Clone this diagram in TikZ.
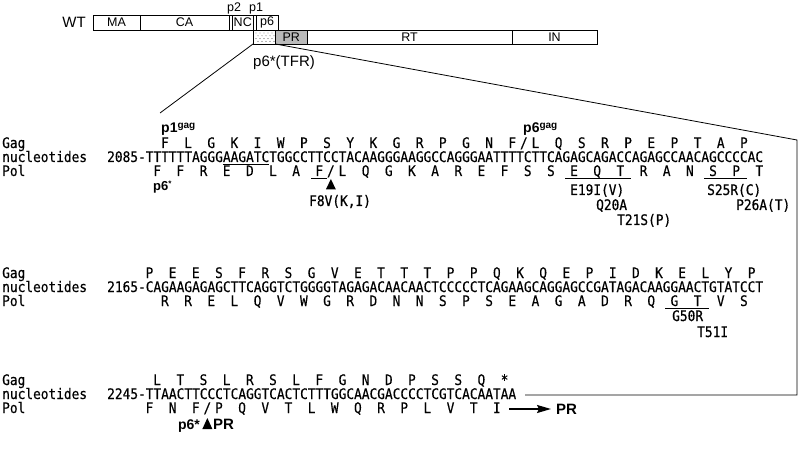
\documentclass[tikz,border=0pt]{standalone}
\usepackage{fontspec}
\setmainfont{Liberation Sans}
\newfontfamily\seqf[FakeStretch=0.884,FakeBold=0.3]{DejaVu Sans Mono}
\newfontfamily\mutf[FakeStretch=0.884,FakeBold=0.7]{DejaVu Sans Mono}
\usetikzlibrary{arrows.meta,calc}
\newcommand{\cx}[1]{107+(#1+0.5)*7.72}
\begin{document}
\begin{tikzpicture}[x=1pt,y=-1pt]
\tikzset{
  seq/.style={font=\seqf\fontsize{14.5}{16}\selectfont, inner sep=0pt, anchor=base},
  mut/.style={font=\mutf\fontsize{14.5}{16}\selectfont, inner sep=0pt, anchor=base west},
  blab/.style={font=\bfseries\fontsize{14}{16}\selectfont, inner sep=0pt, anchor=base west},
  plab/.style={font=\fontsize{12.5}{14}\selectfont, inner sep=0pt},
  gbox/.style={draw, line width=0.8pt, inner sep=0pt, outer sep=0pt, anchor=north west, minimum height=15pt},
  pbox/.style={draw, line width=0.8pt, inner sep=0pt, outer sep=0pt, anchor=north west, minimum height=14pt},
  ln/.style={line width=0.8pt},
  uln/.style={line width=0.8pt},
  tri/.style={fill=black},
}
\useasboundingbox (0,0) rectangle (800,462);

% ---------- top schematic ----------
\node[font=\fontsize{15}{17}\selectfont, inner sep=0pt, anchor=base east] (wt) at (86,28) {WT};
\node[gbox, minimum width=47pt] (ma) at (93,15) {};
\node[gbox, minimum width=89pt] (ca) at (140,15) {};
\node[gbox, minimum width=3.5pt] (p2) at (229,15) {};
\node[gbox, minimum width=20.5pt] (nc) at (232.5,15) {};
\node[gbox, minimum width=3pt] (p1) at (253,15) {};
\node[gbox, minimum width=22pt] (p6) at (256,15) {};
\node[pbox, minimum width=22.5pt] (p6s) at (253,30) {};
\foreach \r in {0,1,2,3} {
  \pgfmathsetmacro{\off}{mod(\r,2)*2}
  \foreach \c in {0,1,2,3,4} {
    \fill ({256+\off+\c*4},{33+\r*2.8}) circle (0.45pt);
  }
}
\node[pbox, minimum width=31.5pt, fill=black!27] (pr) at (275.5,30) {};
\node[pbox, minimum width=205pt] (rt) at (307,30) {};
\node[pbox, minimum width=85pt] (in) at (512,30) {};
\node[plab] (lma) at (ma.center) {MA};
\node[plab] (lca) at (ca.center) {CA};
\node[plab] (lnc) at (nc.center) {NC};
\node[plab] (lp6) at (p6.center) {p6};
\node[plab] (lpr) at (pr.center) {PR};
\node[plab] (lrt) at (rt.center) {RT};
\node[plab] (lin) at (in.center) {IN};
\node[plab, anchor=base] (lp2) at (234,12) {p2};
\node[plab, anchor=base] (lp1) at (256,12) {p1};
\node[font=\fontsize{15}{17}\selectfont, inner sep=0pt, anchor=base west] (tfr) at (253,67) {p6*(TFR)};

\coordinate (lend) at (160,113);
\coordinate (rtop) at (797,140);
\coordinate (rbot) at (797,395);
\coordinate (rend) at (525,395);
\draw[ln] (p6s.south west) -- (lend);
\draw[ln] (p6s.south east) -- (rtop) -- (rbot) -- (rend);

% ---------- row labels and nucleotides ----------
\foreach \yb/\num/\seqtxt/\tag in {
  148/2085/TTTTTTAGGGAAGATCTGGCCTTCCTACAAGGGAAGGCCAGGGAATTTTCTTCAGAGCAGACCAGAGCCAACAGCCCCAC/a,
  278/2165/CAGAAGAGAGCTTCAGGTCTGGGGTAGAGACAACAACTCCCCCTCAGAAGCAGGAGCCGATAGACAAGGAACTGTATCCT/b,
  385/2245/TTAACTTCCCTCAGGTCACTCTTTGGCAACGACCCCTCGTCACAATAA/c}{
  \node[seq, anchor=base west] (gag\tag) at (2,\yb) {Gag};
  \node[seq, anchor=base west] (nuc\tag) at (2,\yb+14) {nucleotides};
  \node[seq, anchor=base west] (pol\tag) at (2,\yb+28) {Pol};
  \node[seq, anchor=base west] (nt\tag) at (107,\yb+14) {\num-\seqtxt};
}

% ---------- block 1 ----------
\foreach \a [count=\k from 0] in {F,L,G,K,I,W,P,S,Y,K,G,R,P,G,N,F,L,Q,S,R,P,E,P,T,A,P}
  \node[seq] (ga\k) at ({\cx{7+3*\k}},148) {\a};
\node[seq] (gasl) at ({107+54*7.72},148) {/};
\foreach \a [count=\k from 0] in {F,F,R,E,D,L,A,F,L,Q,G,K,A,R,E,F,S,S,E,Q,T,R,A,N,S,P,T}
  \node[seq] (pa\k) at ({\cx{6+3*\k}},176) {\a};
\node[seq] (pasl) at ({107+29*7.72},176) {/};

\draw[uln] ({107+15*7.72},164) -- ({107+21*7.72},164);
\draw[uln] ($(pa7.base)+(-8,2.5)$) -- ($(pa7.base)+(8,2.5)$);
\draw[uln] ($(pa18.base)+(-9,2.5)$) -- ($(pa20.base)+(11,2.5)$);
\draw[uln] ($(pa24.base)+(-9,2.5)$) -- ($(pa25.base)+(11,2.5)$);

\node[blab] (p1gag) at (161,133) {p1\raisebox{4.5pt}{\fontsize{10}{10}\selectfont gag}};
\node[blab] (p6gag) at (523,133) {p6\raisebox{4.5pt}{\fontsize{10}{10}\selectfont gag}};
\node[blab, font=\bfseries\fontsize{13}{15}\selectfont] (p6sa) at (153,191) {p6\raisebox{4pt}{\fontsize{8}{8}\selectfont *}};

\fill[tri] ({107+29*7.72},179) -- ++(5,10.5) -- ++(-10,0) -- cycle;
\node[mut] (m1) at (309,206) {F8V(K,I)};
\node[mut] (m2) at (570,195) {E19I(V)};
\node[mut] (m3) at (596,210) {Q20A};
\node[mut] (m4) at (617,225) {T21S(P)};
\node[mut] (m5) at (707,195) {S25R(C)};
\node[mut] (m6) at (736,210) {P26A(T)};

% ---------- block 2 ----------
\foreach \a [count=\k from 0] in {P,E,E,S,F,R,S,G,V,E,T,T,T,P,P,Q,K,Q,E,P,I,D,K,E,L,Y,P}
  \node[seq] (gb\k) at ({\cx{5+3*\k}},278) {\a};
\foreach \a [count=\k from 0] in {R,R,E,L,Q,V,W,G,R,D,N,N,S,P,S,E,A,G,A,D,R,Q,G,T,V,S}
  \node[seq] (pb\k) at ({\cx{7+3*\k}},306) {\a};
\draw[uln] ($(pb22.base)+(-9,2.5)$) -- ($(pb23.base)+(11,2.5)$);
\node[mut] (m7) at (672,321) {G50R};
\node[mut] (m8) at (697,337) {T51I};

% ---------- block 3 ----------
\foreach \a [count=\k from 0] in {L,T,S,L,R,S,L,F,G,N,D,P,S,S,Q,*}
  \node[seq] (gc\k) at ({\cx{6+3*\k}},385) {\a};
\foreach \a [count=\k from 0] in {F,N,F,P,Q,V,T,L,W,Q,R,P,L,V,T,I}
  \node[seq] (pc\k) at ({\cx{5+3*\k}},413) {\a};
\node[seq] (pcsl) at ({107+13*7.72},413) {/};

\fill[tri] ({107+13*7.72},418) -- ++(5,11) -- ++(-10,0) -- cycle;
\node[blab, font=\bfseries\fontsize{14}{16}\selectfont, anchor=base east] (p6sc) at (200,429) {p6*};
\node[blab, font=\bfseries\fontsize{15}{17}\selectfont] (prc) at (213,429) {PR};

\coordinate (arrs) at (509,409);
\node[blab, font=\bfseries\fontsize{15}{17}\selectfont] (prr) at (556,414) {PR};
\draw[line width=1.6pt, -{Stealth[length=14pt,width=8pt,inset=2pt]}] (arrs) -- ($(prr.base west)+(-5,-5)$);
\end{tikzpicture}
\end{document}
